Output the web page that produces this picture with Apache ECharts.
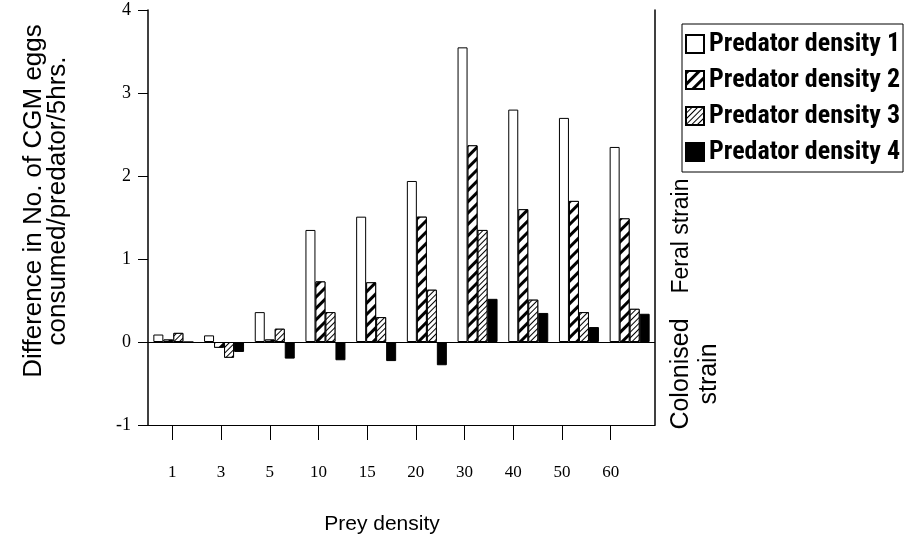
<!DOCTYPE html>
<html lang="en">
<head>
    <meta charset="UTF-8">
    <title>Prey density</title>
    <style>
        html, body { margin: 0; padding: 0; background: #fff; }
        #main { width: 907px; height: 543px; }
    </style>
</head>
<body>
<div id="main"></div>
<script src="https://cdn.jsdelivr.net/npm/echarts@6/dist/echarts.min.js"></script>
<script>
    // prey density categories
    const categories = ['1', '3', '5', '10', '15', '20', '30', '40', '50', '60'];
    // difference in no. of eggs consumed, per predator density
    const pd1 = [0.09, 0.08, 0.36, 1.35, 1.51, 1.94, 3.55, 2.80, 2.70, 2.35];
    const pd2 = [0.03, -0.07, 0.03, 0.73, 0.72, 1.51, 2.37, 1.60, 1.70, 1.49];
    const pd3 = [0.11, -0.19, 0.16, 0.36, 0.30, 0.63, 1.35, 0.51, 0.36, 0.40];
    const pd4 = [0, -0.12, -0.20, -0.22, -0.23, -0.28, 0.52, 0.35, 0.18, 0.34];
    const names = ['Predator density 1', 'Predator density 2', 'Predator density 3', 'Predator density 4'];

    const myChart = echarts.init(document.getElementById('main'));

    const serif = '"Liberation Serif", "Times New Roman", serif';
    const sans = '"Liberation Sans", Arial, sans-serif';

    function bar(name, data, fill, decal) {
        return {
            name,
            type: 'bar',
            data,
            barWidth: 10,
            barGap: '0%',
            itemStyle: {
                color: fill,
                borderColor: '#000',
                borderWidth: 1,
                decal: decal
            },
            emphasis: { disabled: true }
        };
    }

    const series = [
        bar(names[0], pd1, '#fff', null),
        bar(names[1], pd2, '#fff', {
            symbol: 'rect', symbolSize: 1,
            dashArrayX: [1, 0], dashArrayY: [2.5, 4.5],
            rotation: -Math.PI / 4,
            color: '#000', backgroundColor: '#fff'
        }),
        bar(names[2], pd3, '#fff', {
            symbol: 'rect', symbolSize: 1,
            dashArrayX: [1, 0], dashArrayY: [1, 2.5],
            rotation: -Math.PI / 4,
            color: '#000', backgroundColor: '#fff'
        }),
        bar(names[3], pd4, '#000', null)
    ];
    // zero line
    series[0].markLine = {
        silent: true,
        symbol: 'none',
        label: { show: false },
        lineStyle: { color: '#000', type: 'solid', width: 1 },
        data: [{ yAxis: 0 }]
    };

    const option = {
        animation: false,
        backgroundColor: '#fff',
        grid: [
            { left: 148, right: 252, top: 10, bottom: 118 },
            /* only for the tick labels, which sit a bit left in the scan */
            { left: 148, right: 272, top: 10, bottom: 118 }
        ],
        legend: {
            data: names,
            orient: 'vertical',
            left: 682,
            top: 24,
            itemWidth: 18,
            itemHeight: 18,
            itemGap: 10,
            padding: [7, 3, 7, 3],
            borderColor: '#000',
            borderWidth: 1,
            borderRadius: 0,
            icon: 'rect',
            selectedMode: false,
            textStyle: {
                color: '#000',
                fontSize: 26,
                fontWeight: 'bold',
                fontFamily: '"Roboto Condensed", Roboto, sans-serif',
                lineHeight: 26
            }
        },
        xAxis: [
            {
                type: 'category',
                gridIndex: 0,
                data: categories,
                axisLine: { onZero: false, lineStyle: { color: '#000', width: 1 } },
                axisTick: { show: false },
                axisLabel: { show: false }
            },
            {
                type: 'category',
                gridIndex: 1,
                data: categories,
                axisLine: { show: false, onZero: false },
                axisTick: { show: true, alignWithLabel: true, length: 15, lineStyle: { color: '#000' } },
                axisLabel: { color: '#000', fontFamily: serif, fontSize: 17, margin: 39 }
            }
        ],
        yAxis: [
            {
                type: 'value',
                gridIndex: 0,
                min: -1,
                max: 4,
                interval: 1,
                axisLine: { show: true, lineStyle: { color: '#000', width: 1.5 } },
                axisTick: { show: true, length: 10, lineStyle: { color: '#000' } },
                axisLabel: { color: '#000', fontFamily: serif, fontSize: 18, margin: 17 },
                splitLine: { show: false }
            },
            {
                type: 'value',
                gridIndex: 0,
                position: 'right',
                min: -1,
                max: 4,
                interval: 1,
                axisLine: { show: true, lineStyle: { color: '#000', width: 1.5 } },
                axisTick: { show: false },
                axisLabel: { show: false },
                splitLine: { show: false }
            },
            {
                type: 'value',
                gridIndex: 1,
                show: false,
                min: -1,
                max: 4
            }
        ],
        graphic: [
            {
                type: 'text', x: 46, y: 201, rotation: Math.PI / 2,
                style: {
                    text: 'Difference in No. of CGM eggs\nconsumed/predator/5hrs.',
                    font: '26px ' + sans, lineHeight: 24,
                    textAlign: 'center', textVerticalAlign: 'middle', fill: '#000'
                }
            },
            {
                type: 'text', x: 682, y: 236, rotation: Math.PI / 2,
                style: {
                    text: 'Feral strain', font: '23px ' + sans,
                    textAlign: 'center', textVerticalAlign: 'middle', fill: '#000'
                }
            },
            {
                type: 'text', x: 695, y: 374, rotation: Math.PI / 2,
                style: {
                    text: 'Colonised\nstrain', font: '25px ' + sans, lineHeight: 28,
                    textAlign: 'center', textVerticalAlign: 'middle', fill: '#000'
                }
            },
            {
                type: 'text', x: 382, y: 524,
                style: {
                    text: 'Prey density', font: '21px ' + sans,
                    textAlign: 'center', textVerticalAlign: 'middle', fill: '#000'
                }
            }
        ],
        series
    };

    myChart.setOption(option);
</script>
</body>
</html>
